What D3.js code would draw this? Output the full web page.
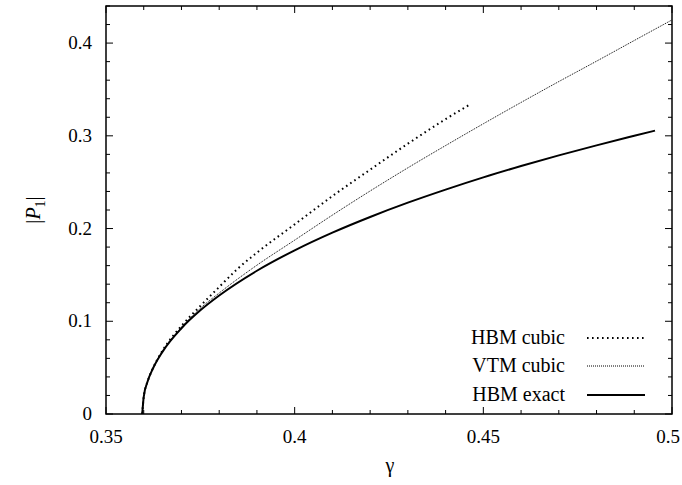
<!DOCTYPE html>
<html>
<head>
<meta charset="utf-8">
<script src="https://cdn.jsdelivr.net/npm/d3@7/dist/d3.min.js"></script>
<style>
  html, body { margin: 0; padding: 0; background: #fff; font-family: "Liberation Serif", serif; }
  svg { display: block; }
  svg text { font-family: "Liberation Serif", "DejaVu Serif", serif; }
</style>
</head>
<body>
<svg id="chart" width="682" height="485"></svg>
<script>
// Oscillation amplitude |P1| versus forcing parameter gamma

// HBM cubic approximation
const hbmCubicGamma = [0.3596, 0.3600, 0.3610, 0.3625, 0.365, 0.370, 0.375, 0.380, 0.385, 0.390,
                       0.400, 0.410, 0.420, 0.430, 0.440, 0.4467];
const hbmCubicP     = [0, 0.0186, 0.0348, 0.0498, 0.0685, 0.095, 0.1165, 0.137, 0.157, 0.174,
                       0.2045, 0.235, 0.2635, 0.2915, 0.318, 0.3344];

// VTM cubic approximation
const vtmCubicGamma = [0.3596, 0.3600, 0.3610, 0.3625, 0.365, 0.370, 0.375, 0.380, 0.390, 0.400,
                       0.410, 0.420, 0.430, 0.440, 0.450, 0.460, 0.470, 0.480, 0.490, 0.500];
const vtmCubicP     = [0, 0.0186, 0.0348, 0.0497, 0.0680, 0.0935, 0.1140, 0.1305, 0.1605, 0.1875,
                       0.2145, 0.2405, 0.2655, 0.2895, 0.3130, 0.3360, 0.3585, 0.3805, 0.4028, 0.4250];

// HBM exact solution
const hbmExactGamma = [0.3596, 0.3600, 0.3610, 0.3625, 0.365, 0.370, 0.375, 0.380, 0.390, 0.400,
                       0.410, 0.420, 0.430, 0.440, 0.450, 0.460, 0.470, 0.480, 0.490, 0.4955];
const hbmExactP     = [0, 0.0186, 0.0347, 0.0496, 0.0673, 0.0925, 0.1118, 0.1278, 0.1545, 0.1765,
                       0.1956, 0.2125, 0.2279, 0.2420, 0.2552, 0.2674, 0.2789, 0.2897, 0.3000, 0.3056];

const xMajorTicks = [0.35, 0.4, 0.45, 0.5];
const xTickLabels = ["0.35", "0.4", "0.45", "0.5"];
const yMajorTicks = [0, 0.1, 0.2, 0.3, 0.4];
const yTickLabels = ["0", "0.1", "0.2", "0.3", "0.4"];
const legendLabels = ["HBM cubic", "VTM cubic", "HBM exact"];

const FONT = "Liberation Serif";
const svg = d3.select("#chart");
const margin = { left: 106, right: 10, top: 6, bottom: 71 };
const W = 682, H = 485;
const x0 = margin.left, x1 = W - margin.right, y0 = margin.top, y1 = H - margin.bottom;

const x = d3.scaleLinear().domain([0.35, 0.5]).range([x0, x1]);
const y = d3.scaleLinear().domain([0, 0.44]).range([y1, y0]);

const tickFont = 19, legendFont = 20;

// frame
svg.append("rect")
  .attr("x", x0).attr("y", y0)
  .attr("width", x1 - x0).attr("height", y1 - y0)
  .attr("fill", "none").attr("stroke", "#000").attr("stroke-width", 1.5);

// ticks on all four sides, pointing inward
const xMinor = d3.range(0.35, 0.5001, 0.01).filter(v => !xMajorTicks.some(m => Math.abs(m - v) < 1e-6));
const yMinor = d3.range(0, 0.4401, 0.02).filter(v => !yMajorTicks.some(m => Math.abs(m - v) < 1e-6));
const ticks = svg.append("g").attr("stroke", "#000").attr("stroke-width", 1);
const majorLen = 7, minorLen = 4;
function xTick(v, len) {
  ticks.append("line").attr("x1", x(v)).attr("x2", x(v)).attr("y1", y1).attr("y2", y1 - len);
  ticks.append("line").attr("x1", x(v)).attr("x2", x(v)).attr("y1", y0).attr("y2", y0 + len);
}
function yTick(v, len) {
  ticks.append("line").attr("y1", y(v)).attr("y2", y(v)).attr("x1", x0).attr("x2", x0 + len);
  ticks.append("line").attr("y1", y(v)).attr("y2", y(v)).attr("x1", x1).attr("x2", x1 - len);
}
xMajorTicks.forEach(v => xTick(v, majorLen));
xMinor.forEach(v => xTick(v, minorLen));
yMajorTicks.forEach(v => yTick(v, majorLen));
yMinor.forEach(v => yTick(v, minorLen));

function styled(sel, size) {
  return sel.style("font-family", FONT).style("font-size", size + "px").attr("fill", "#000");
}

// tick labels (the last x label is kept inside the canvas)
styled(svg.append("g").selectAll("text").data(xMajorTicks).join("text"), tickFont)
  .attr("x", d => Math.min(x(d), W - 14)).attr("y", y1 + 29)
  .attr("text-anchor", "middle")
  .text((d, i) => xTickLabels[i]);
styled(svg.append("g").selectAll("text").data(yMajorTicks).join("text"), tickFont)
  .attr("x", x0 - 14).attr("y", d => y(d) + 6)
  .attr("text-anchor", "end")
  .text((d, i) => yTickLabels[i]);

// axis titles
styled(svg.append("text"), legendFont)
  .attr("x", (x0 + x1) / 2 + 1).attr("y", 472)
  .attr("text-anchor", "middle")
  .text("γ");
const yTitle = styled(svg.append("text"), legendFont)
  .attr("transform", "translate(40," + ((y0 + y1) / 2) + ") rotate(-90)")
  .attr("text-anchor", "middle");
yTitle.append("tspan").text("|");
yTitle.append("tspan").style("font-style", "italic").text("P");
yTitle.append("tspan").style("font-size", "14px").attr("dy", 5).text("1");
yTitle.append("tspan").attr("dy", -5).text("|");

// curves
const series = [
  { gx: hbmCubicGamma, p: hbmCubicP, width: 2, dash: "1.6,3.4" },
  { gx: vtmCubicGamma, p: vtmCubicP, width: 1, dash: "1,1" },
  { gx: hbmExactGamma, p: hbmExactP, width: 2, dash: null }
];
const line = d3.line().x(d => x(d[0])).y(d => y(d[1])).curve(d3.curveMonotoneX);
const plot = svg.append("g");
series.forEach(s => {
  const pts = s.gx.map((g, i) => [g, s.p[i]]);
  plot.append("path")
    .attr("d", line(pts))
    .attr("fill", "none").attr("stroke", "#000")
    .attr("stroke-width", s.width)
    .attr("stroke-dasharray", s.dash);
});

// legend
const legendY = [338, 366, 395];
const leg = svg.append("g");
legendLabels.forEach((lab, i) => {
  styled(leg.append("text"), legendFont)
    .attr("x", 565).attr("y", legendY[i] + 6)
    .attr("text-anchor", "end")
    .text(lab);
  leg.append("line")
    .attr("x1", 587).attr("x2", 645)
    .attr("y1", legendY[i]).attr("y2", legendY[i])
    .attr("stroke", "#000")
    .attr("stroke-width", series[i].width)
    .attr("stroke-dasharray", series[i].dash);
});
</script>
</body>
</html>
